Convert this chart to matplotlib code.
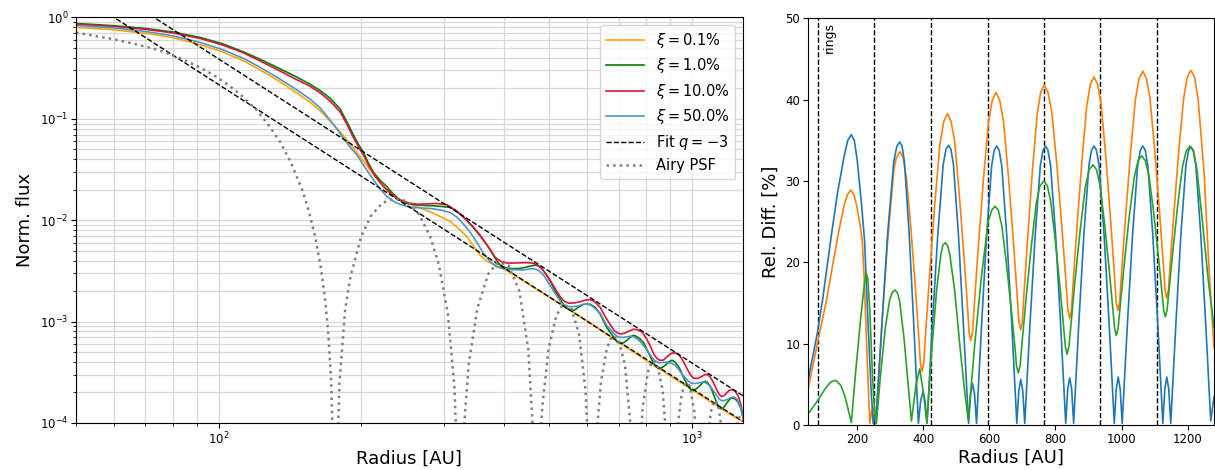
import numpy as np
import matplotlib
matplotlib.use("Agg")
import matplotlib.pyplot as plt

# --- left panel: normalised radial profiles (radius [AU], flux) ---
xi_labels = [r"$\xi = 0.1\%$", r"$\xi = 1.0\%$", r"$\xi = 10.0\%$", r"$\xi = 50.0\%$"]
xi_colors = ["orange", "green", "crimson", "#4f93cc"]

prof_xi01 = [(50, 0.80), (60, 0.757), (70, 0.70), (80, 0.633), (91.5, 0.54), (102, 0.458), (112.6, 0.376),
             (122, 0.306), (132.4, 0.245), (145.9, 0.182), (156, 0.146), (164, 0.12), (174.7, 0.088),
             (180.7, 0.0745), (190, 0.056), (197, 0.045), (205.9, 0.0345), (214, 0.027), (222.8, 0.0216),
             (230, 0.0185), (238.2, 0.0164), (247, 0.0151), (257.8, 0.0141), (268, 0.0131), (280, 0.0121),
             (295, 0.0108), (308.7, 0.0097), (322, 0.0082), (334.7, 0.0069), (346, 0.0055), (357.1, 0.0045),
             (370, 0.0039), (385, 0.0036), (406.6, 0.00318), (478.2, 0.00198), (562.3, 0.00124),
             (609.8, 0.00097), (700, 0.000625), (800, 0.000415), (900, 0.000292), (1000, 0.000213),
             (1100, 0.00016), (1200, 0.000123), (1283, 0.000103)]
prof_xi1 = [(50, 0.873), (60, 0.83), (70, 0.78), (80, 0.72), (91.5, 0.635), (102, 0.55), (112.6, 0.46),
            (122, 0.39), (132.4, 0.325), (145.9, 0.26), (156, 0.22), (164, 0.19), (172, 0.16), (180.7, 0.125),
            (187, 0.092), (192.5, 0.07), (197, 0.057), (202.2, 0.047), (207, 0.037), (212.3, 0.0298),
            (219, 0.025), (226.8, 0.0214), (233, 0.0185), (238.2, 0.0168), (243, 0.0155), (248, 0.0148),
            (257, 0.0143), (270.6, 0.0140), (290, 0.0138), (308.7, 0.0134), (318, 0.0124), (328.8, 0.0108),
            (342, 0.0089), (357.1, 0.0070), (366, 0.0060), (374.9, 0.0051), (384, 0.0042), (393.6, 0.0036),
            (405, 0.00338), (420, 0.00333), (433.8, 0.00335), (450, 0.00348), (462, 0.00358), (470.6, 0.0036),
            (480, 0.0034), (490, 0.0030), (502, 0.0025), (514, 0.0020), (527, 0.00166), (540, 0.00138),
            (553.3, 0.0013), (565, 0.0013), (577, 0.0014), (590.3, 0.00148), (600, 0.00149), (609.8, 0.00148),
            (625, 0.00138), (640.2, 0.00118), (660, 0.00088), (683, 0.000706), (695, 0.00063),
            (705.5, 0.000608), (717, 0.00062), (729, 0.000655), (740, 0.0007), (752.7, 0.000734),
            (765, 0.00071), (778, 0.00067), (790.4, 0.00062), (805, 0.00052), (823.3, 0.000416),
            (837, 0.000365), (850.3, 0.000344), (864, 0.000352), (878.3, 0.000371), (893, 0.0004),
            (907.5, 0.000416), (920, 0.0004), (933, 0.00037), (944.8, 0.000335), (960, 0.00028),
            (983.6, 0.000227), (995, 0.000212), (1007.8, 0.00021), (1025, 0.00022), (1041.2, 0.000236),
            (1055, 0.000252), (1066.8, 0.000258), (1080, 0.00025), (1093, 0.00023), (1102.1, 0.00021),
            (1118, 0.000175), (1138, 0.000144), (1152, 0.000138), (1166.1, 0.000142), (1185, 0.000158),
            (1204.7, 0.000174), (1220, 0.000176), (1235, 0.000172), (1252, 0.00016), (1268, 0.00014),
            (1283, 0.000111)]
prof_xi10 = [(50, 0.86), (60, 0.815), (70, 0.765), (80, 0.705), (91.5, 0.62), (102, 0.535), (112.6, 0.45),
             (122, 0.375), (132.4, 0.31), (145.9, 0.245), (156, 0.21), (164, 0.18), (172, 0.15), (180.7, 0.117),
             (187, 0.087), (192.5, 0.066), (197.5, 0.053), (202.5, 0.0435), (208, 0.034), (214.3, 0.0272),
             (220, 0.0232), (225, 0.0206), (233, 0.0178), (242, 0.0158), (252, 0.0148), (262.5, 0.0144),
             (276, 0.0145), (289.3, 0.01465), (303.8, 0.0142), (316, 0.0126), (328.8, 0.0108), (345, 0.0086),
             (357.1, 0.0071), (370, 0.0056), (384.1, 0.0043), (395, 0.00392), (406.6, 0.00378), (420, 0.00378),
             (433.8, 0.0038), (448, 0.00382), (462.9, 0.00376), (478.2, 0.00345), (490, 0.003), (502, 0.00255),
             (515, 0.00208), (527, 0.00176), (538, 0.00158), (548.8, 0.00152), (565, 0.00153),
             (580.9, 0.00157), (595, 0.00163), (609.8, 0.00165), (622, 0.00158), (640.2, 0.00138),
             (655, 0.00113), (672.1, 0.00093), (686, 0.00081), (699.8, 0.000763), (711, 0.000758),
             (723, 0.000774), (738, 0.00081), (752.7, 0.000841), (768, 0.00083), (784.2, 0.000791),
             (800, 0.00069), (816.6, 0.000575), (830, 0.00048), (843.6, 0.000432), (857, 0.000415),
             (871, 0.000418), (890, 0.00046), (907.5, 0.000491), (922, 0.00049), (937, 0.000475),
             (955, 0.00042), (975.9, 0.000344), (992, 0.0003), (1007.8, 0.000277), (1028, 0.000275),
             (1049.8, 0.000288), (1066.8, 0.000302), (1080, 0.000298), (1093, 0.000284), (1110, 0.00025),
             (1129.1, 0.00021), (1143, 0.00019), (1157, 0.000182), (1172, 0.000188), (1185.6, 0.0002),
             (1200, 0.00021), (1214.7, 0.000214), (1235, 0.000205), (1254.5, 0.000181), (1270, 0.00015),
             (1283, 0.000111)]
prof_xi50 = [(50, 0.834), (60, 0.79), (70, 0.729), (80, 0.66), (91.5, 0.567), (102, 0.482), (112.6, 0.397),
             (122, 0.325), (132.4, 0.26), (145.9, 0.195), (156, 0.157), (164, 0.128), (174.7, 0.089),
             (183.6, 0.0642), (190, 0.052), (196.1, 0.0439), (204, 0.033), (212.6, 0.0249), (220, 0.020),
             (226.8, 0.0172), (234, 0.0154), (242, 0.0143), (250, 0.0137), (257.8, 0.01338), (270, 0.0132),
             (280, 0.01307), (295, 0.0126), (308.7, 0.0119), (318, 0.0108), (325, 0.0098), (333, 0.0086),
             (340.1, 0.0076), (350, 0.0062), (362, 0.0048), (374.9, 0.0039), (385, 0.0035), (395, 0.00336),
             (406.6, 0.0033), (420, 0.00325), (440.9, 0.00323), (452, 0.0033), (462.9, 0.00333), (474, 0.0032),
             (485.9, 0.00288), (500, 0.00232), (518.6, 0.00178), (530, 0.00152), (540, 0.00143), (555, 0.0014),
             (571.7, 0.00142), (590, 0.00148), (600, 0.00149), (612, 0.00145), (625, 0.00134),
             (640.2, 0.00121), (660, 0.00092), (683, 0.00077), (697, 0.00071), (711.4, 0.000697),
             (725, 0.000705), (740.8, 0.000718), (755, 0.000705), (771.3, 0.000662), (795, 0.00056),
             (816.6, 0.000468), (833, 0.000415), (850.3, 0.000393), (868, 0.000395), (885.6, 0.0004),
             (903, 0.00039), (922, 0.000371), (950, 0.00031), (975.9, 0.000266), (995, 0.000248),
             (1016.2, 0.000245), (1037, 0.00025), (1058, 0.000254), (1080, 0.000242), (1102.1, 0.000219),
             (1125, 0.00019), (1147.5, 0.000168), (1166, 0.000166), (1185.6, 0.00017), (1205, 0.000177),
             (1224.2, 0.000181), (1245, 0.000172), (1264.9, 0.00015), (1283, 0.000111)]

airy_psf = [(50, 0.71), (55, 0.656), (60, 0.61), (67, 0.544), (75, 0.475), (83, 0.395), (91.5, 0.32),
            (98, 0.2675), (105, 0.215), (112, 0.1687), (120, 0.124), (128, 0.085), (135, 0.0589),
            (142, 0.0376), (150, 0.0203), (155, 0.01247), (160, 0.00685), (164.5, 0.00339), (168, 0.00161),
            (170.5, 0.00077), (173, 0.000245), (175.5, 1.6e-5), (176.4, 1e-8),
            (177.3, 1.6e-5), (180, 0.000247), (185, 0.00129), (190, 0.00279), (200, 0.0069), (210, 0.0111),
            (222, 0.01487), (236.4, 0.01647), (250, 0.01534), (265, 0.01146), (280, 0.00688), (292, 0.00364),
            (305, 0.0012), (315, 0.000224), (320, 3.0e-5), (323, 1e-8),
            (325.9, 1.56e-5), (330.3, 9.7e-5), (337.5, 0.000377), (352.1, 0.00136), (371, 0.00293),
            (388.4, 0.00385), (410.2, 0.00357), (432.1, 0.00198), (451, 0.000532), (460.5, 9.7e-5),
            (464.9, 1.56e-5), (468.4, 1e-8), (471.3, 6e-6), (475.7, 3.7e-5), (482.9, 0.000145), (497.4, 0.000524),
            (516.3, 0.00113), (533.7, 0.00148), (555.4, 0.00137), (577.2, 0.00076), (596, 0.000205),
            (606.2, 3.7e-5), (613.4, 1e-8), (620.6, 1.8e-5), (627.9, 7.1e-5), (642.4, 0.000255), (661.2, 0.00055),
            (678.6, 0.000722), (700.3, 0.000669), (722, 0.00037), (740.9, 9.98e-5), (751.1, 1.8e-5),
            (758.3, 1e-8), (772.8, 4e-5), (787.3, 0.000145), (806.1, 0.000312), (823.5, 0.00041),
            (845.2, 0.00038), (866.9, 0.00021), (885.7, 5.7e-5), (903.1, 1e-8), (917.6, 2.45e-5), (932, 8.9e-5),
            (950.9, 0.000191), (968.2, 0.000251), (990, 0.000232), (1011.6, 0.000129), (1030.5, 3.5e-5),
            (1047.8, 1e-8), (1076.7, 5.9e-5), (1095.6, 0.000127), (1112.9, 0.000167), (1134.6, 0.000155),
            (1156.3, 8.6e-5), (1178, 1.6e-5), (1192.5, 1e-8), (1221.4, 4e-5), (1240.2, 8.7e-5),
            (1257.5, 0.000114), (1279.2, 0.000106)]

fit_r = [50, 1280]
fit_upper = [3.125, 1.863e-4]
fit_lower = [1.745, 1.0405e-4]

# --- right panel: relative differences [%] ---
rings = [80, 252, 423, 595, 766, 936, 1107]

diff_orange = [(50, 4.2), (79, 10.0), (107, 15.4), (140, 23.0), (160, 27.0), (170, 28.3), (180, 28.9),
               (190, 28.3), (198, 27.0), (207, 25.0), (215, 22.75), (221, 18), (226, 12.5), (232, 6), (238, 0.2),
               (243, 1.6), (248, 2.1), (252, 1.2), (256, 0.2), (274.2, 12.3), (292.3, 22.9), (310.5, 31.3),
               (317.7, 32.8), (328.6, 33.6), (338.7, 32.9), (348.8, 30.4), (362.3, 24.2), (375.8, 16.9),
               (385.9, 10.9), (391.3, 7.6), (396, 6.6), (401.4, 7.7), (407.6, 11.7), (419.2, 18.6), (434.7, 27.2),
               (450.1, 34.5), (461.7, 37.3), (473.3, 38.3), (483.9, 37.3), (494.4, 35.0), (508.5, 28.5),
               (522.6, 21.0), (533.1, 14.9), (538.8, 11.3), (543.7, 10.4), (549.0, 11.4), (555.1, 15.3),
               (566.6, 22.0), (581.9, 30.2), (597.1, 37.2), (608.6, 39.9), (620, 40.9), (631.2, 39.9),
               (642.4, 37.4), (657.3, 30.7), (672.2, 22.8), (683.3, 16.4), (689.3, 12.7), (694.5, 11.7),
               (699.5, 12.7), (705.2, 16.5), (715.9, 23.1), (730.2, 31.3), (744.5, 38.2), (755.2, 40.9),
               (765.9, 41.8), (777.5, 40.9), (789.1, 38.4), (804.6, 31.8), (820, 24.0), (831.6, 17.7),
               (837.8, 14.1), (843.2, 13.1), (848.3, 14.1), (854.2, 17.9), (865.2, 24.4), (879.9, 32.4),
               (894.6, 39.2), (905.6, 41.9), (916.6, 42.8), (927.5, 41.9), (938.3, 39.4), (952.8, 32.8),
               (967.3, 25.0), (978.1, 18.7), (983.9, 15.1), (989, 14.1), (994.3, 15.1), (1000.3, 18.8),
               (1011.6, 25.3), (1026.7, 33.2), (1041.8, 40.0), (1053.1, 42.6), (1064.4, 43.5), (1075.3, 42.6),
               (1086.1, 40.2), (1100.6, 33.7), (1115.1, 26.2), (1126, 20.1), (1131.7, 16.6), (1136.8, 15.6),
               (1142, 16.6), (1147.8, 20.1), (1158.8, 26.2), (1173.5, 33.8), (1188.1, 40.2), (1199.1, 42.8),
               (1210.1, 43.6), (1221, 42.8), (1232, 40.0), (1250, 31), (1265, 19), (1280, 9.5)]
diff_blue = [(50, 5.3), (79, 11.3), (95, 15.4), (119.5, 22.75), (140, 28.5), (160, 33.0), (171, 35.0),
             (181.8, 35.7), (191, 35.0), (200, 32.5), (212, 27.5), (222, 22.75), (232, 13), (241, 5), (248, 0.2),
             (252, 1.2), (256, 0.2), (274.8, 12.5), (292.3, 23.7), (310.5, 32.4), (319.9, 34.3), (328.6, 34.8),
             (335.4, 34.3), (342.7, 32.4), (356.8, 23.7), (370.9, 12.5), (385, 0.2), (392, 3.0), (399, 4.1),
             (405, 3.0), (411, 0.2), (427.3, 12.4), (443.7, 23.4), (460, 32.0), (468.5, 33.9), (476.3, 34.4),
             (483.5, 33.9), (491.2, 32.0), (506.2, 23.4), (521.1, 12.4), (537, 0.2), (543, 3.8), (549, 5.1),
             (555, 3.8), (561, 0.2), (576.3, 12.3), (591.5, 23.3), (606.8, 31.9), (614.7, 33.8), (622, 34.3),
             (629.3, 33.8), (637.3, 31.9), (652.5, 23.3), (667.8, 12.3), (683, 0.2), (689, 4.2), (695, 5.6),
             (701, 4.2), (707, 0.2), (722.7, 12.3), (738.5, 23.3), (754.2, 31.9), (762.4, 33.8), (769.9, 34.3),
             (777.2, 33.8), (785.2, 31.9), (800.5, 23.3), (815.7, 12.3), (831, 0.2), (837, 4.4), (843, 5.8),
             (849, 4.4), (855, 0.2), (870.4, 12.3), (885.8, 23.3), (901.2, 31.9), (909.2, 33.8), (916.6, 34.3),
             (924, 33.8), (932, 31.9), (947.3, 23.3), (962.7, 12.3), (978, 0.2), (984, 4.4), (990, 5.9),
             (996, 4.4), (1002, 0.2), (1017.6, 12.3), (1033.2, 23.3), (1048.8, 31.9), (1056.9, 33.8),
             (1064.4, 34.3), (1071.7, 33.8), (1079.6, 31.9), (1094.7, 23.3), (1109.9, 12.3), (1125, 0.2),
             (1131, 4.4), (1137, 5.9), (1143, 4.4), (1149, 0.2), (1164.3, 12.3), (1179.5, 23.3), (1194.8, 31.9),
             (1202.7, 33.7), (1210, 34.2), (1217.3, 33.7), (1225, 31.9), (1240, 23.3), (1255, 12.3), (1270, 0.5),
             (1280, 3.5)]
diff_green = [(50, 1.3), (80, 3.0), (105, 4.6), (120, 5.3), (134.6, 5.5), (150, 4.9), (162, 3.6), (172, 2.0),
              (182, 0.3), (195, 6.5), (210, 13.0), (222, 17.5), (228, 18.6), (232, 17.9), (238, 14.0), (246, 6.0),
              (252, 2.0), (258, 0.2), (270, 6.0), (285, 12.0), (298, 15.4), (306, 16.3), (313.5, 16.6),
              (321, 16.3), (328, 15.3), (342, 10.5), (355, 4.5), (364, 0.5), (378, 5.0), (389, 6.9), (400, 4.0),
              (411, 0.3), (425, 9.0), (440, 16.5), (453, 21.0), (459, 22.1), (466.3, 22.4), (473, 22.1),
              (480, 21.0), (495, 16.5), (510, 10.0), (524, 4.5), (536, 0.6), (556, 10.1), (576.5, 18.5),
              (596.8, 25.1), (607, 26.4), (617, 26.9), (627, 26.4), (638, 24.4), (652, 19.7), (666.3, 14.2),
              (677, 9.7), (682, 7.3), (687.4, 6.4), (693, 7.3), (699, 10.2), (710.6, 15.4), (726.1, 21.7),
              (741.6, 27.2), (753, 29.4), (764.8, 30.0), (775.5, 29.4), (785.9, 27.4), (800, 22.5),
              (814.1, 16.8), (824.6, 12.1), (830, 9.6), (835.2, 8.7), (841, 9.7), (847, 12.4), (858.7, 17.6),
              (874.4, 23.8), (890.1, 29.2), (902, 31.4), (913.6, 32.0), (924, 31.4), (934.7, 29.5),
              (948.8, 24.7), (962.9, 19.0), (973.4, 14.4), (979, 11.9), (984, 11.0), (989.7, 11.9),
              (995.6, 14.5), (1007.2, 19.4), (1022.7, 25.4), (1038.2, 30.4), (1050, 32.5), (1061.4, 33.1),
              (1072, 32.5), (1082.8, 30.7), (1097, 26.2), (1111.3, 20.8), (1122, 16.5), (1127.5, 14.1),
              (1132.7, 13.3), (1138, 14.2), (1143.9, 16.7), (1155.2, 21.3), (1169.9, 27.0), (1184.8, 31.8),
              (1196, 33.7), (1207.1, 34.3), (1217, 33.8), (1228, 31.5), (1245, 25.0), (1262, 18.0),
              (1280, 12.0)]


def xy(pairs):
    a = np.array(pairs, dtype=float)
    return a[:, 0], a[:, 1]


fig = plt.figure(figsize=(12.15, 4.7), dpi=100)
ax1 = fig.add_axes([0.0626, 0.100, 0.5487, 0.8628])
ax2 = fig.add_axes([0.6648, 0.0957, 0.3344, 0.8653])

# left: profiles
for prof, lab, col in zip([prof_xi01, prof_xi1, prof_xi10, prof_xi50], xi_labels, xi_colors):
    r, f = xy(prof)
    ax1.plot(r, f, color=col, lw=1.2, label=lab)
ax1.plot(fit_r, fit_upper, "k--", lw=1.0, label=r"Fit $q = -3$")
ax1.plot(fit_r, fit_lower, "k--", lw=1.0)
r, f = xy(airy_psf)
ax1.plot(r, f, ls=":", color="gray", lw=1.8, label="Airy PSF")

ax1.set_xscale("log")
ax1.set_yscale("log")
ax1.set_xlim(50, 1280)
ax1.set_ylim(1e-4, 1)
ax1.grid(True, which="both", color="#d8d8d8", lw=0.9)
ax1.set_axisbelow(True)
ax1.tick_params(labelsize=8.5, pad=2)
ax1.set_xlabel("Radius [AU]", fontsize=13, labelpad=2)
ax1.set_ylabel("Norm. flux", fontsize=13)
ax1.legend(loc="upper right", fontsize=10.5, labelspacing=0.45, handlelength=2.6)

# right: relative differences
for rr in rings:
    ax2.axvline(rr, color="k", ls="--", lw=1.0)
ax2.text(rings[0] + 15, 49.5, "rings", rotation=90, va="top", ha="left", fontsize=9)
for d, col in [(diff_orange, "C1"), (diff_blue, "C0"), (diff_green, "C2")]:
    r, v = xy(d)
    ax2.plot(r, v, color=col, lw=1.2)
ax2.set_xlim(50, 1280)
ax2.set_ylim(0, 50)
ax2.set_xticks([200, 400, 600, 800, 1000, 1200])
ax2.tick_params(labelsize=8.5, pad=2)
ax2.set_xlabel("Radius [AU]", fontsize=13, labelpad=2)
ax2.set_ylabel("Rel. Diff. [%]", fontsize=13)

fig.savefig("out.png", dpi=100)
